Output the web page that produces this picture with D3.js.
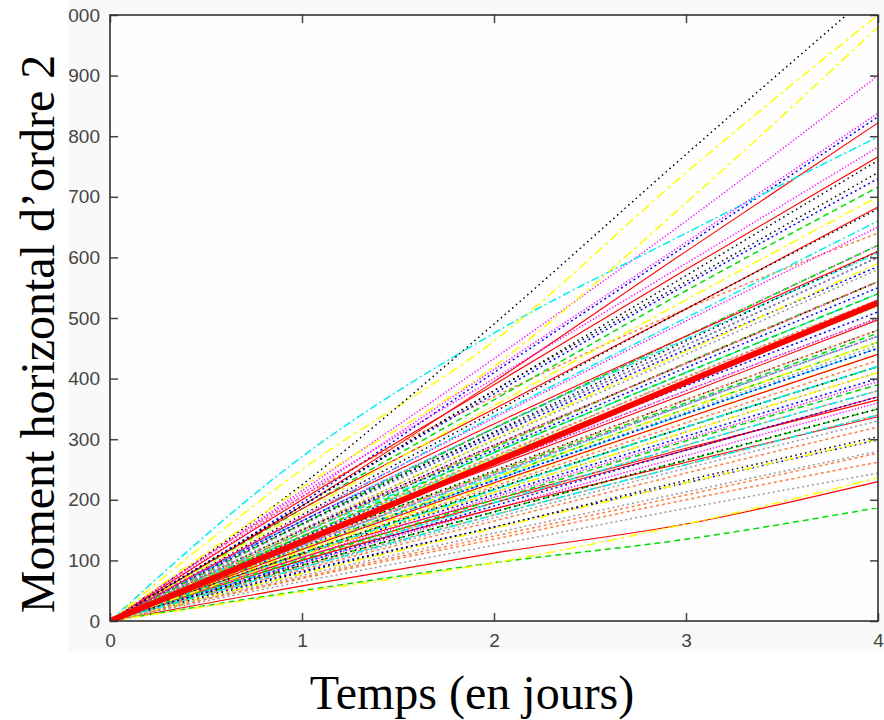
<!DOCTYPE html>
<html>
<head>
<meta charset="utf-8">
<script src="https://cdn.jsdelivr.net/npm/d3@7"></script>
<style>
  body { margin: 0; background: #fff; }
  svg { display: block; }
</style>
</head>
<body>
<div id="my_dataviz"></div>
<script>
// time in days
var days = [0, 1, 2, 3, 4];

// trajectories of the second horizontal moment (one row per particle set)
var trajectories = [
  [0,190,395,610,822], [0,146,286,426,560], [0,195,410,620,832], [0,215,433,660,900], [0,271,475,640,799],
  [0,250,462,740,1000], [0,225,490,770,1045], [0,205,370,515,640], [0,138,270,403,530],
  [0,58,112,160,230], [0,50,96,135,187], [0,82,155,228,299], [0,205,415,625,838], [0,165,318,465,607],
  [0,220,420,690,980], [0,80,155,232,304], [0,72,140,208,277], [0,65,125,186,244],
  [0,200,390,580,766], [0,185,365,545,716], [0,160,305,448,585], [0,210,400,590,782], [0,125,240,357,470],
  [0,48,96,160,236], [0,190,380,570,760], [0,70,135,200,262], [0,118,232,345,455],
  [0,185,350,515,683], [0,130,245,360,475], [0,150,282,418,550], [0,165,318,470,620], [0,140,268,395,520],
  [0,150,300,445,590], [0,175,345,515,680], [0,112,222,327,430], [0,132,258,380,500],
  [0,135,255,375,497], [0,112,217,320,420], [0,165,310,455,600], [0,150,290,425,560], [0,120,232,342,450],
  [0,180,355,530,700], [0,128,248,365,480], [0,100,195,290,380], [0,108,212,312,410],
  [0,105,195,282,370], [0,160,318,470,620], [0,110,208,305,400], [0,125,242,357,470], [0,145,278,410,540],
  [0,115,226,335,440], [0,150,290,425,560], [0,125,246,365,480], [0,88,170,252,330],
  [0,110,200,285,365], [0,92,180,265,350], [0,138,264,388,510], [0,95,185,273,360], [0,98,195,290,380],
  [0,135,268,395,520], [0,112,218,320,420], [0,90,175,258,340], [0,152,298,440,580],
  [0,100,185,262,337], [0,120,236,350,460], [0,122,232,342,450], [0,105,204,300,395], [0,170,338,500,660],
  [0,78,153,228,300], [0,160,312,462,610], [0,140,272,402,530], [0,124,242,357,470],
  [0,170,325,470,610], [0,102,200,297,390], [0,96,190,282,370], [0,132,258,380,500], [0,110,216,320,420],
  [0,120,236,350,460], [0,92,180,266,350], [0,85,165,244,320], [0,75,145,213,280],
  [0,118,228,335,440], [0,140,278,410,540], [0,190,375,555,730], [0,172,335,495,650], [0,88,175,258,340],
  [0,108,212,312,410], [0,190,380,560,740], [0,145,288,425,560], [0,158,308,455,600]
];

// mean trajectory (thick red)
var meanMoment = [0, 131, 262, 394, 525];

var xTicks = [0, 1, 2, 3, 4];
var yTicks = [0, 100, 200, 300, 400, 500, 600, 700, 800, 900, 1000];

// gnuplot-like line types
var lineColors = ["#ff0000", "#00dd00", "#0000ff", "#ff00ff", "#00eeee", "#ffff00", "#000000", "#ff7f40", "#9a9a9a"];
var lineDashes = [null, "6,4", "2,3", "1.2,2", "8,3,2,3", "10,4,3,4", "1.5,3.5", "3,3", "2,3"];

var width = 884, height = 720;
var margin = {top: 15, right: 6, bottom: 99, left: 110};
var w = width - margin.left - margin.right,
    h = height - margin.top - margin.bottom;

var svg = d3.select("#my_dataviz")
  .append("svg")
    .attr("width", width)
    .attr("height", height);

// light background of the original plot image
svg.append("rect")
  .attr("x", 68).attr("y", 0)
  .attr("width", width - 68).attr("height", 652)
  .attr("fill", "#f9f9f9");

var g = svg.append("g")
  .attr("transform", "translate(" + margin.left + "," + margin.top + ")");

g.append("rect")
  .attr("width", w).attr("height", h)
  .attr("fill", "#fefefe");

var x = d3.scaleLinear().domain([0, 4]).range([0, w]);
var y = d3.scaleLinear().domain([0, 1000]).range([h, 0]);

var line = d3.line()
  .x(function(d, i) { return x(days[i]); })
  .y(function(d) { return y(d); })
  .curve(d3.curveMonotoneX);

g.append("clipPath").attr("id", "clip")
  .append("rect").attr("width", w).attr("height", h);

var lines = g.append("g").attr("clip-path", "url(#clip)");

lines.selectAll("path.traj")
  .data(trajectories)
  .enter().append("path")
    .attr("class", "traj")
    .attr("fill", "none")
    .attr("stroke", function(d, i) { return lineColors[i % 9]; })
    .attr("stroke-dasharray", function(d, i) { return lineDashes[i % 9]; })
    .attr("stroke-width", function(d, i) { return (i % 9 == 0) ? 1.1 : 1.5; })
    .attr("d", line);

lines.append("path")
  .datum(meanMoment)
  .attr("fill", "none")
  .attr("stroke", "#ff0000")
  .attr("stroke-width", 6)
  .attr("d", line);

// axes with inward ticks on all four sides
var fontTick = "'Liberation Sans', Arial, sans-serif";

var yAxis = g.append("g")
  .call(d3.axisLeft(y).tickValues(yTicks).tickSize(-8).tickPadding(10).tickFormat(d3.format("d")));
var yAxisR = g.append("g").attr("transform", "translate(" + w + ",0)")
  .call(d3.axisRight(y).tickValues(yTicks).tickSize(-8).tickFormat(""));
var xAxis = g.append("g").attr("transform", "translate(0," + h + ")")
  .call(d3.axisBottom(x).tickValues(xTicks).tickSize(-8).tickPadding(13).tickFormat(d3.format("d")));
var xAxisT = g.append("g")
  .call(d3.axisTop(x).tickValues(xTicks).tickSize(-8).tickFormat(""));

[yAxis, yAxisR, xAxis, xAxisT].forEach(function(a) {
  a.select(".domain").remove();
  a.selectAll(".tick line").attr("stroke", "#444").attr("stroke-width", 1.5);
  a.selectAll(".tick text")
    .attr("font-family", fontTick)
    .attr("font-size", 19)
    .attr("fill", "#444");
});

g.append("rect")
  .attr("width", w).attr("height", h)
  .attr("fill", "none")
  .attr("stroke", "#333")
  .attr("stroke-width", 1.6);

// white band on the left hides the leading digit, as in the original
svg.append("rect")
  .attr("x", 0).attr("y", 0)
  .attr("width", 68).attr("height", height)
  .attr("fill", "#fff");

// axis titles
svg.append("text")
  .attr("x", 472)
  .attr("y", 709)
  .attr("text-anchor", "middle")
  .attr("font-family", "'Liberation Serif', 'Times New Roman', serif")
  .attr("font-size", 48)
  .attr("fill", "#000")
  .text("Temps (en jours)");

svg.append("text")
  .attr("transform", "translate(54,334) rotate(-90)")
  .attr("text-anchor", "middle")
  .attr("font-family", "'Liberation Serif', 'Times New Roman', serif")
  .attr("font-size", 48)
  .attr("fill", "#000")
  .text("Moment horizontal d\u2019ordre 2");
</script>
</body>
</html>
